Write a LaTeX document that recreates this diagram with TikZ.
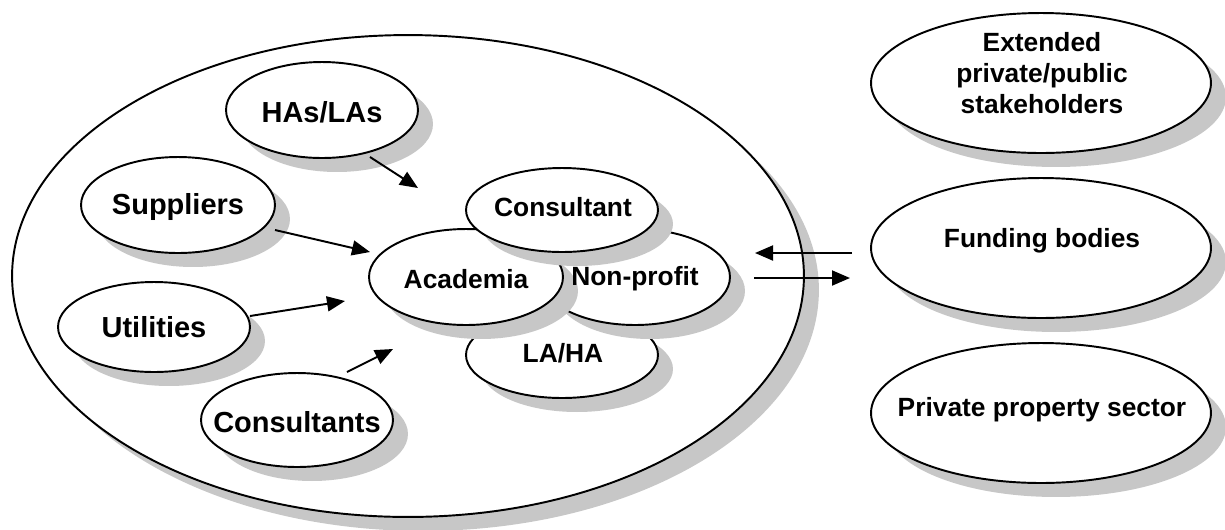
\documentclass[tikz,border=0pt]{standalone}
\usepackage{fontspec}
\setmainfont{Liberation Sans}
\usetikzlibrary{shapes.geometric,arrows.meta}
\begin{document}
\begin{tikzpicture}[x=0.02cm,y=-0.02cm,
  blob/.style={ellipse,draw,line width=1.1pt,fill=white,inner sep=0pt,
    preaction={draw=none,fill=black!22,transform canvas={xshift=0.3cm,yshift=-0.28cm}}},
  lbl/.style={font=\fontsize{16.5}{19}\selectfont\bfseries,align=center,inner sep=0pt},
  lblc/.style={font=\fontsize{15}{17.6}\selectfont\bfseries,align=center,inner sep=0pt},
  arr/.style={line width=1.1pt,-{Triangle[length=0.36cm,width=0.3cm]}}]
\useasboundingbox (0,0) rectangle (1225,529);
% outer group
\node[blob,minimum width=15.84cm,minimum height=9.64cm] (outer) at (408,276) {};
% surrounding stakeholders
\node[blob,minimum width=3.84cm,minimum height=1.92cm] (has) at (322,110) {};
\node[blob,minimum width=3.88cm,minimum height=1.92cm] (sup) at (178,205) {};
\node[blob,minimum width=3.84cm,minimum height=1.80cm] (uti) at (154,327) {};
\node[blob,minimum width=3.84cm,minimum height=1.88cm] (cons) at (297,420) {};
% core cluster
\node[blob,minimum width=3.84cm,minimum height=1.72cm] (laha) at (562,355) {};
\node[blob,minimum width=3.80cm,minimum height=1.92cm] (nonp) at (635,277) {};
\node[blob,minimum width=3.88cm,minimum height=1.92cm] (acad) at (466,277) {};
\node[blob,minimum width=3.84cm,minimum height=1.68cm] (consc) at (562,210) {};
% right side
\node[blob,minimum width=6.8cm,minimum height=2.8cm] (ext) at (1041,83) {};
\node[blob,minimum width=6.8cm,minimum height=2.8cm] (fund) at (1041,248) {};
\node[blob,minimum width=6.8cm,minimum height=2.8cm] (priv) at (1041,413) {};
% labels
\node[lbl] (hasT) at (322,112) {HAs/LAs};
\node[lbl] (supT) at (178,207) {Suppliers};
\node[lbl] (utiT) at (154,327) {Utilities};
\node[lbl] (consT) at (297,422) {Consultants};
\node[lblc] (lahaT) at (563,353) {LA/HA};
\node[lblc] (nonpT) at (635,279) {Non-profit};
\node[lblc] (acadT) at (466,279) {Academia};
\node[lblc] (conscT) at (563,207) {Consultant};
\node[lblc] (extT) at (1042,73) {Extended\\private/public\\stakeholders};
\node[lblc] (fundT) at (1042,241) {Funding bodies};
\node[lblc] (privT) at (1042,410) {Private property sector};
% arrow end points
\coordinate (a1s) at (370,157); \coordinate (a1e) at (418,188);
\coordinate (a2s) at (275,230); \coordinate (a2e) at (370,252);
\coordinate (a3s) at (250,316); \coordinate (a3e) at (345,301);
\coordinate (a4s) at (347,372); \coordinate (a4e) at (393,349);
\coordinate (b1s) at (852,253); \coordinate (b1e) at (755,253);
\coordinate (b2s) at (754,278); \coordinate (b2e) at (850,278);
\draw[arr] (a1s) -- (a1e);
\draw[arr] (a2s) -- (a2e);
\draw[arr] (a3s) -- (a3e);
\draw[arr] (a4s) -- (a4e);
\draw[arr] (b1s) -- (b1e);
\draw[arr] (b2s) -- (b2e);
\end{tikzpicture}
\end{document}
